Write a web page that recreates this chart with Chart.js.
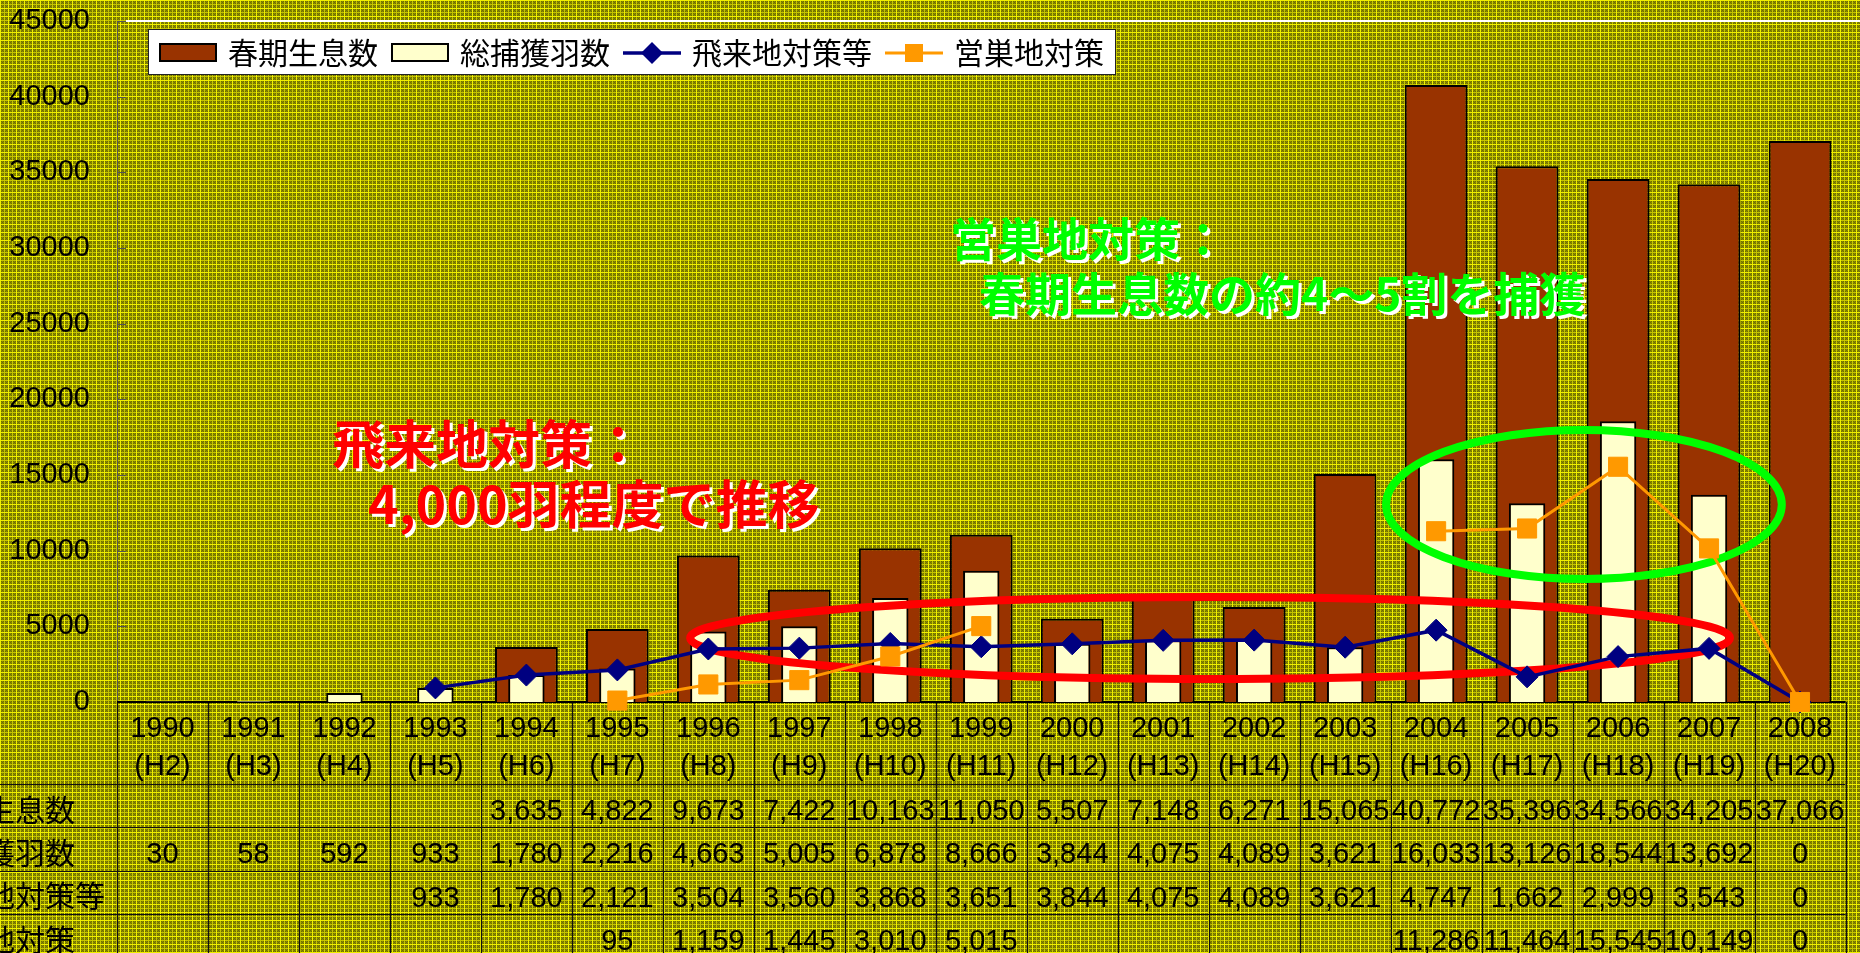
<!DOCTYPE html>
<html><head><meta charset="utf-8">
<script src="https://cdn.jsdelivr.net/npm/chart.js@4.4.0/dist/chart.umd.min.js"></script>
<style>html,body{margin:0;padding:0;background:#999900;overflow:hidden}#wrap{width:1860px;height:953px;position:relative}</style>
</head><body><div id="wrap"><canvas id="c" width="1860" height="953"></canvas></div>
<script>
// ---- data ----
const years = ['1990','1991','1992','1993','1994','1995','1996','1997','1998','1999','2000','2001','2002','2003','2004','2005','2006','2007','2008'];
const eraLabels = ['(H2)','(H3)','(H4)','(H5)','(H6)','(H7)','(H8)','(H9)','(H10)','(H11)','(H12)','(H13)','(H14)','(H15)','(H16)','(H17)','(H18)','(H19)','(H20)'];
const springPopulation = [null,null,null,null,3635,4822,9673,7422,10163,11050,5507,7148,6271,15065,40772,35396,34566,34205,37066];
const totalCaptured = [30,58,592,933,1780,2216,4663,5005,6878,8666,3844,4075,4089,3621,16033,13126,18544,13692,0];
const winteringSiteMeasures = [null,null,null,933,1780,2121,3504,3560,3868,3651,3844,4075,4089,3621,4747,1662,2999,3543,0];
const nestingSiteMeasures = [null,null,null,null,null,95,1159,1445,3010,5015,null,null,null,null,11286,11464,15545,10149,0];
const seriesNames = ['春期生息数','総捕獲羽数','飛来地対策等','営巣地対策'];
const yMin = 0, yMax = 45000, yStep = 5000;
const redNote = ['飛来地対策：','4,000羽程度で推移'];
const greenNote = ['営巣地対策：','春期生息数の約4～5割を捕獲'];
// ovals in data coordinates (category index, value)
const redOval = {x0:5.80, x1:17.23, y0:1520, y1:6938};
const greenOval = {x0:13.45, x1:17.80, y0:8128, y1:17974};

const COLORS = {spring:'#993300', total:'#FFFFCC', wintering:'#000080', nesting:'#FF9900'};
const NUM_FONT = '29px "Liberation Sans", Arial, sans-serif';
const CJK_FONT = '30px "Noto Sans CJK JP", sans-serif';

// ---- background texture ----
const tile = document.createElement('canvas'); tile.width = 8; tile.height = 8;
(function(){ const t = tile.getContext('2d');
  for (let y=0;y<8;y++) for (let x=0;x<8;x++){
    let c;
    if (x===0||y===0) c='#f0f000';
    else if (x===4||y===4) c='#c4c400';
    else c = ((x+y)%2) ? '#8c8c00' : '#6e6e00';
    t.fillStyle=c; t.fillRect(x,y,1,1);
  }})();

function fmt(v){ return v==null ? '' : v.toLocaleString('en-US'); }

const overlay = {
  id:'overlay',
  beforeDraw(chart){
    const c = chart.ctx; c.save();
    c.fillStyle = c.createPattern(tile,'repeat');
    c.fillRect(0,0,chart.width,chart.height); c.restore();
  },
  beforeDatasetsDraw(chart){
    const c = chart.ctx, xs = chart.scales.x, ys = chart.scales.y, a = chart.chartArea;
    c.save();
    // inner ticks on y axis
    c.strokeStyle = '#555'; c.lineWidth = 1;
    ys.ticks.forEach(t=>{ const y = Math.round(ys.getPixelForValue(t.value))+0.5;
      c.beginPath(); c.moveTo(a.left, y); c.lineTo(a.left+9, y); c.stroke(); });
    // white top border
    c.strokeStyle = '#ffffff'; c.lineWidth = 2;
    c.beginPath(); c.moveTo(a.left+9, a.top); c.lineTo(chart.width, a.top); c.stroke();
    // data table
    const n = years.length;
    const bounds = []; for (let i=0;i<=n;i++) bounds.push(xs.getPixelForValue(i-0.5));
    const top = a.bottom, rowH = 43.3, headH = 82;
    const rowTops = [top+headH, top+headH+rowH, top+headH+2*rowH, top+headH+3*rowH];
    c.strokeStyle = '#111'; c.lineWidth = 1.2;
    bounds.forEach(bx=>{ c.beginPath(); c.moveTo(Math.round(bx)+0.5, top); c.lineTo(Math.round(bx)+0.5, chart.height); c.stroke(); });
    rowTops.forEach(ry=>{ c.beginPath(); c.moveTo(0, Math.round(ry)+0.5); c.lineTo(bounds[n], Math.round(ry)+0.5); c.stroke(); });
    c.strokeStyle = '#000'; c.lineWidth = 2;
    c.beginPath(); c.moveTo(a.left, a.bottom); c.lineTo(bounds[n], a.bottom); c.stroke();
    c.fillStyle = '#000'; c.textAlign = 'center'; c.textBaseline = 'alphabetic';
    c.font = NUM_FONT;
    for (let i=0;i<n;i++){
      const cx = xs.getPixelForValue(i);
      c.fillText(years[i], cx, top+35);
      c.fillText(eraLabels[i], cx, top+73);
    }
    const rows = [springPopulation, totalCaptured, winteringSiteMeasures, nestingSiteMeasures];
    rows.forEach((arr, r)=>{
      const cy = rowTops[r] + rowH/2 + 4;
      c.font = NUM_FONT; c.textAlign = 'center';
      arr.forEach((v,i)=>{ c.fillText(fmt(v), xs.getPixelForValue(i), cy+10.5); });
      c.font = CJK_FONT; c.textAlign = 'left';
      c.fillText(seriesNames[r], -75, cy+11);
    });
    c.restore();
  },
  afterDatasetDraw(chart, args){
    if (args.index !== 1) return;
    const c = chart.ctx, xs = chart.scales.x, ys = chart.scales.y;
    const oval = (o, color)=>{
      const l = xs.getPixelForValue(o.x0), r = xs.getPixelForValue(o.x1);
      const t = ys.getPixelForValue(o.y1), b = ys.getPixelForValue(o.y0);
      c.save(); c.strokeStyle = color; c.lineWidth = 8;
      c.beginPath(); c.ellipse((l+r)/2, (t+b)/2, (r-l)/2, (b-t)/2, 0, 0, Math.PI*2); c.stroke(); c.restore();
    };
    oval(redOval, '#FF0000');
    oval(greenOval, '#00FF00');
  },
  afterDraw(chart){
    const c = chart.ctx; c.save();
    // legend
    c.fillStyle = '#fff'; c.strokeStyle = '#222'; c.lineWidth = 1;
    c.fillRect(148, 29, 967, 45); c.strokeRect(148.5, 29.5, 967, 45);
    const ds = chart.data.datasets;
    let x = 159; const cy = 53;
    c.font = CJK_FONT; c.textBaseline = 'alphabetic'; c.textAlign = 'left';
    ds.forEach((d, i)=>{
      if (d.type === 'bar'){
        c.fillStyle = d.backgroundColor; c.fillRect(x, 43, 58, 19);
        c.strokeStyle = '#000'; c.lineWidth = 2; c.strokeRect(x+1, 44, 56, 17);
      } else {
        c.strokeStyle = d.borderColor; c.lineWidth = d.borderWidth;
        c.beginPath(); c.moveTo(x, cy); c.lineTo(x+58, cy); c.stroke();
        c.fillStyle = d.pointBackgroundColor; c.beginPath();
        const mx = x+29;
        if (d.pointStyle === 'rectRot'){ const r = 11; c.moveTo(mx-r,cy); c.lineTo(mx,cy-r); c.lineTo(mx+r,cy); c.lineTo(mx,cy+r); c.closePath(); }
        else { c.rect(mx-9, cy-9, 18, 18); }
        c.fill();
      }
      c.fillStyle = '#000';
      c.fillText(d.label, x+69, cy+11);
      x += 69 + c.measureText(d.label).width + 13;
    });
    // notes
    const note = (lines, color, size, pos)=>{
      c.font = 'bold '+size+'px "Noto Sans CJK JP", sans-serif'; c.textBaseline = 'middle'; c.textAlign = 'left';
      lines.forEach((s, k)=>{
        c.fillStyle = '#fff'; c.fillText(s, pos[k][0]+3, pos[k][1]+3);
        c.fillStyle = color; c.fillText(s, pos[k][0], pos[k][1]);
      });
    };
    note(redNote, '#FF0000', 52, [[332,444],[368,504]]);
    note(greenNote, '#00FF00', 46, [[950,239],[979,294]]);
    c.restore();
  }
};

Chart.defaults.font.family = '"Liberation Sans", Arial, sans-serif';
new Chart(document.getElementById('c'), {
  type: 'bar',
  data: {
    labels: years,
    datasets: [
      {type:'bar', label: seriesNames[0], data: springPopulation, backgroundColor: COLORS.spring, borderColor:'#000', borderWidth:2,
       grouped:false, categoryPercentage:1, barPercentage:0.69, order:3},
      {type:'bar', label: seriesNames[1], data: totalCaptured, backgroundColor: COLORS.total, borderColor:'#000', borderWidth:2,
       grouped:false, categoryPercentage:1, barPercentage:0.40, order:2},
      {type:'line', label: seriesNames[2], data: winteringSiteMeasures, borderColor: COLORS.wintering, borderWidth:3.5,
       pointStyle:'rectRot', pointRadius:11, pointBackgroundColor: COLORS.wintering, pointBorderColor: COLORS.wintering, pointBorderWidth:1,
       tension:0, spanGaps:false, clip:false, order:1},
      {type:'line', label: seriesNames[3], data: nestingSiteMeasures, borderColor: COLORS.nesting, borderWidth:3,
       pointStyle:'rect', pointRadius:13.5, pointBackgroundColor: COLORS.nesting, pointBorderColor: COLORS.nesting, pointBorderWidth:1,
       tension:0, spanGaps:false, clip:false, order:0}
    ]
  },
  options: {
    responsive:false, animation:false, devicePixelRatio:1,
    layout:{padding:{top:21, right:3, left:0, bottom:251}},
    plugins:{legend:{display:false}, tooltip:{enabled:false}, title:{display:false}},
    scales:{
      x:{display:false, offset:true},
      y:{min:yMin, max:yMax, beginAtZero:true,
         ticks:{stepSize:yStep, color:'#000', font:{size:29, family:'"Liberation Sans", Arial, sans-serif'}, padding:27,
                callback:(v)=>String(v)},
         grid:{display:false, drawTicks:false},
         border:{display:true, color:'#555', width:1},
         afterFit(s){ s.width = 117; s.paddingTop = 0; s.paddingBottom = 0; }}
    }
  },
  plugins:[overlay]
});
</script></body></html>
